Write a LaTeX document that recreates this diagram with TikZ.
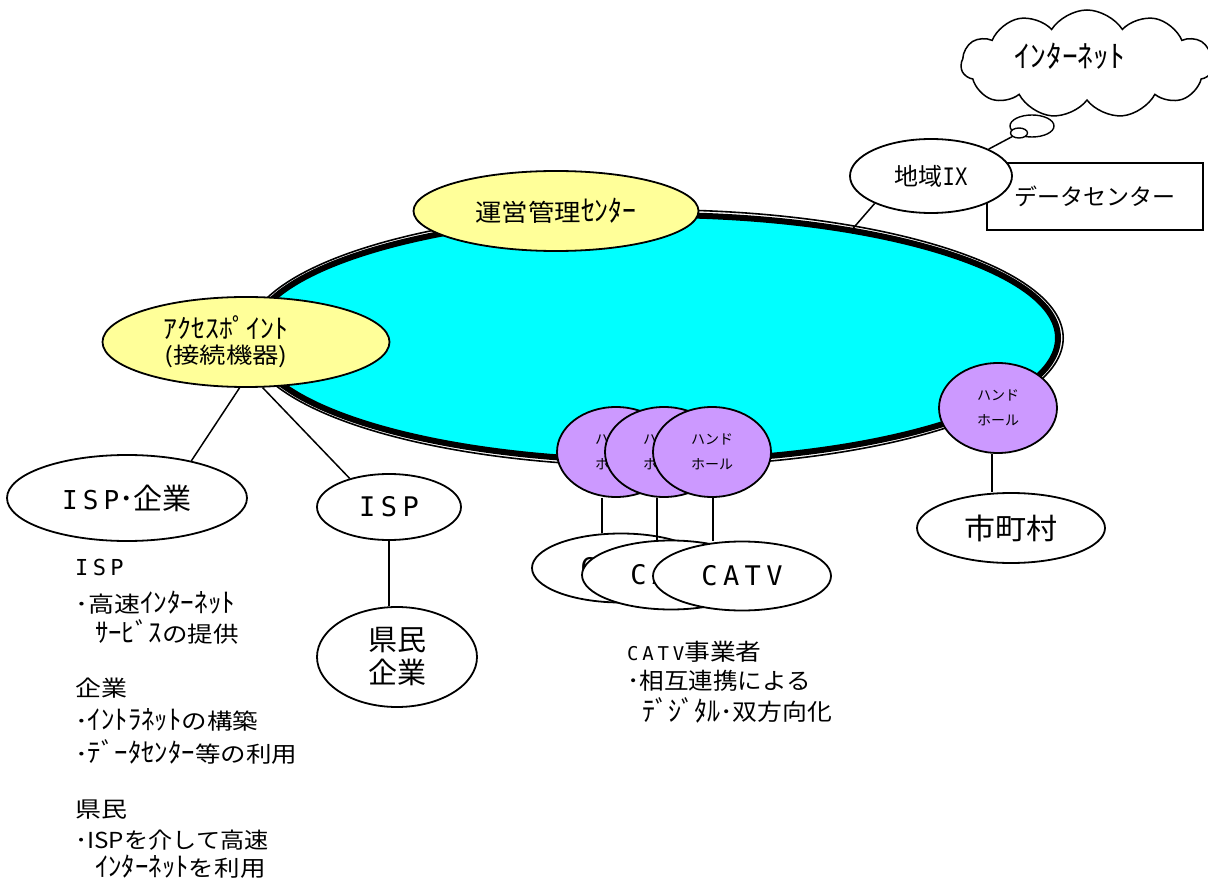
\documentclass[tikz,border=0pt]{standalone}
\usepackage{fontspec}
\usepackage{graphicx}
\setmainfont{Noto Sans CJK JP}
\newfontfamily\monof{DejaVu Sans Mono}
\newfontfamily\monols[LetterSpace=20]{DejaVu Sans Mono}
\usetikzlibrary{shapes.geometric,shapes.symbols}
\definecolor{cyanfill}{HTML}{00FFFF}
\definecolor{yel}{HTML}{FFFF99}
\definecolor{purp}{HTML}{CC99FF}
\newcommand\hs[2]{\scalebox{#1}[1]{#2}}
\newcommand\hk[1]{\raisebox{-0.02em}{\scalebox{1.05}[1.22]{#1}}}
\newcommand\fs[1]{\fontsize{#1}{#1}\selectfont}
\begin{document}
\begin{tikzpicture}[x=1pt,y=-1pt,
  shp/.style={ellipse, draw, line width=1.8pt, inner sep=0pt, align=center},
  conn/.style={line width=1.5pt},
  lbl/.style={inner sep=0pt, anchor=west},
  hole/.style={shp, fill=purp, minimum width=118pt, minimum height=90pt, font=\fontsize{14}{25}\selectfont},
  catv/.style={shp, fill=white, minimum width=178pt, minimum height=69pt, font=\monols\fs{27}},
]
\useasboundingbox (0,0) rectangle (1208,885);
\fill[white] (0,0) rectangle (1208,885);

% central ring
\node[ellipse, draw, fill=cyanfill, line width=6pt, inner sep=0pt,
      minimum width=806pt, minimum height=246pt] (ring) at (655,338) {};
\draw[line width=1.6pt] (ring.center) ellipse [x radius=408.2, y radius=128.2];

% management center and access point
\node[shp, fill=yel, minimum width=285pt, minimum height=80pt, font=\fs{24}]
  (unei) at (556,211) {\hs{1.1}{運営管理\hk{ｾﾝﾀｰ}}};
\node[shp, fill=yel, minimum width=287pt, minimum height=90pt,
  label={[inner sep=0pt, xshift=-20pt, font=\fontsize{22}{25}\selectfont, align=center]center:{\hs{1.2}{\hk{ｱｸｾｽﾎﾟｲﾝﾄ}}\\\hs{1.2}{(接続機器)}}}]
  (ap) at (246,342) {};

% data center, internet cloud, regional IX
\node[draw, line width=1.8pt, fill=white, minimum width=216pt, minimum height=67pt,
      inner sep=0pt, font=\fs{23}] (dc) at (1095,196.5) {データセンター};
\node[cloud, cloud puffs=11, cloud puff arc=115, cloud ignores aspect, draw, fill=white,
      line width=1.5pt, minimum width=252pt, minimum height=108pt, inner sep=0pt]
  (cloud) at (1087,64) {};
\node[inner sep=0pt, font=\fs{25}] (inet) at (1070,56) {\hs{1.2}{\hk{ｲﾝﾀｰﾈｯﾄ}}};
\node[shp, fill=white, line width=1.4pt, minimum width=44pt, minimum height=22pt] (b1) at (1032,126) {};
\node[shp, fill=white, line width=1.4pt, minimum width=17pt, minimum height=10pt] (b2) at (1019,133) {};
\node[shp, fill=white, minimum width=162pt, minimum height=74pt, font=\fs{24}]
  (ix) at (931,176) {地域\hs{0.85}{\monof IX}};

% hand holes
\node[hole] (hh1) at (616,452) {ハンド\\ホール};
\node[hole] (hh2) at (664,452) {ハンド\\ホール};
\node[hole] (hh3) at (712,452) {ハンド\\ホール};
\node[hole] (hh4) at (998,408) {ハンド\\ホール};

% CATV
\node[catv] (cv1) at (621,568) {CATV};
\node[catv] (cv2) at (671,575) {CATV};
\node[catv] (cv3) at (742,576) {CATV};

% municipalities, ISPs, residents
\node[shp, fill=white, minimum width=188pt, minimum height=70pt, font=\fs{29}]
  (sct) at (1011,528) {\hs{1.07}{市町村}};
\node[shp, fill=white, minimum width=240pt, minimum height=86pt, font=\fs{29}]
  (isp1) at (127,498) {{\monols\fs{26}ISP}･企業};
\node[shp, fill=white, minimum width=144pt, minimum height=66pt]
  (isp2) at (389,507) {{\monols\fs{27}ISP}};
\node[shp, fill=white, minimum width=160pt, minimum height=100pt, font=\fontsize{29}{33}\selectfont]
  (ken) at (397,657) {県民\\企業};

% connectors
\draw[conn] (ix.206) -- (ring.29);
\draw[conn] (ix.25) -- (b2);
\draw[conn] (ap.262) -- (isp1.30);
\draw[conn] (ap.290) -- (isp2.144);
\draw[conn] (isp2.south) -- (isp2.south |- ken.north);
\draw[conn] ([xshift=-14pt]hh1.south) -- ([xshift=-14pt]hh1.south |- cv1.north);
\draw[conn] ([xshift=-7pt]hh2.south) -- ([xshift=-7pt]hh2.south |- cv2.north);
\draw[conn] ([xshift=1pt]hh3.south) -- ([xshift=1pt]hh3.south |- cv3.north);
\draw[conn] ([xshift=-6pt]hh4.south) -- ([xshift=-6pt]hh4.south |- sct.north);

% left text block
\node[lbl, font=\monols\fs{22}] (t1) at (75,567) {ISP};
\node[lbl, font=\fs{22}] (t2) at (75,603) {\hs{1.18}{･高速\hk{ｲﾝﾀｰﾈｯﾄ}}};
\node[lbl, font=\fs{22}] (t3) at (95,632) {\hs{1.16}{\hk{ｻｰﾋﾞｽ}の提供}};
\node[lbl, font=\fs{22}] (t4) at (75,688) {\hs{1.18}{企業}};
\node[lbl, font=\fs{22}] (t5) at (75,720) {\hs{1.16}{･\hk{ｲﾝﾄﾗﾈｯﾄ}の構築}};
\node[lbl, font=\fs{22}] (t6) at (75,752) {\hs{1.16}{･\hk{ﾃﾞｰﾀｾﾝﾀｰ}等の利用}};
\node[lbl, font=\fs{22}] (t7) at (75,810) {\hs{1.18}{県民}};
\node[lbl, font=\fs{22}] (t8) at (75,840) {\hs{1.1}{･ISPを介して高速}};
\node[lbl, font=\fs{22}] (t9) at (95,867) {\hs{1.16}{\hk{ｲﾝﾀｰﾈｯﾄ}を利用}};

% CATV text block
\node[lbl, font=\fs{23}] (c1) at (627,652) {{\monols\fs{19}CATV}\hs{1.12}{事業者}};
\node[lbl, font=\fs{23}] (c2) at (627,681) {\hs{1.07}{･相互連携による}};
\node[lbl, font=\fs{23}] (c3) at (642,710) {\hs{1.08}{\hk{ﾃﾞｼﾞﾀﾙ}･双方向化}};
\end{tikzpicture}
\end{document}
